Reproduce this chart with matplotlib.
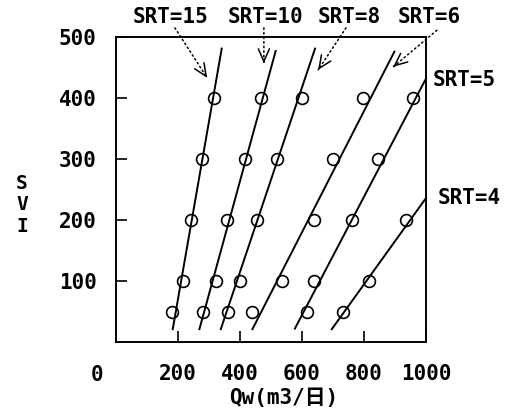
import matplotlib
matplotlib.use("Agg")
import matplotlib.pyplot as plt

# ---- data ----
svi_levels = [50, 100, 200, 300, 400]

qw_srt15 = [180, 217, 241, 276, 317]
qw_srt10 = [282, 322, 357, 416, 468]
qw_srt8 = [360, 400, 456, 518, 599]
qw_srt6 = [438, 537, 640, 700, 797]
qw_srt5 = [617, 638, 760, 846, 957]
qw_srt4 = [733, 817, 935]
svi_srt4 = [50, 100, 200]

# fitted lines: (Qw, SVI) at both ends
fit15_x, fit15_y = [183, 341], [21, 481]
fit10_x, fit10_y = [269, 515], [21, 477]
fit8_x, fit8_y = [338, 642], [21, 481]
fit6_x, fit6_y = [440, 898], [21, 476]
fit5_x, fit5_y = [577, 1000], [22, 432]
fit4_x, fit4_y = [696, 1000], [21, 236]

x_ticks = [200, 400, 600, 800, 1000]
y_ticks = [100, 200, 300, 400, 500]

FONT = ["DejaVu Sans Mono", "Noto Sans CJK JP"]
plt.rcParams["font.family"] = FONT

fig = plt.figure(figsize=(5.05, 4.13), dpi=100)
ax = fig.add_axes([0.2297, 0.1719, 0.6139, 0.7385])

mk = dict(marker="o", linestyle="none", markersize=8.5, markerfacecolor="none",
          markeredgecolor="black", markeredgewidth=1.2)
ln = dict(color="black", linewidth=1.4)

for fx, fy in [(fit15_x, fit15_y), (fit10_x, fit10_y), (fit8_x, fit8_y),
               (fit6_x, fit6_y), (fit5_x, fit5_y), (fit4_x, fit4_y)]:
    ax.plot(fx, fy, clip_on=False, **ln)

for qx in [qw_srt15, qw_srt10, qw_srt8, qw_srt6, qw_srt5]:
    ax.plot(qx, svi_levels, **mk)
ax.plot(qw_srt4, svi_srt4, **mk)

ax.set_xlim(0, 1000)
ax.set_ylim(0, 500)
ax.set_xticks(x_ticks)
ax.set_yticks(y_ticks)
ax.tick_params(direction="in", length=8, width=1.2, labelsize=15, colors="black")
ax.tick_params(axis="x", pad=16)
ax.tick_params(axis="y", pad=14)
for lab in ax.get_xticklabels() + ax.get_yticklabels():
    lab.set_fontweight("bold")
for s in ax.spines.values():
    s.set_linewidth(1.4)

ax.text(-61, -54, "0", fontsize=15, fontweight="bold", ha="center", va="center")
ax.text(540, -92, "Qw(m3/日)", fontsize=15, fontweight="bold", ha="center",
        va="center", family=FONT)
ax.text(-303, 225, "S\nV\nI", fontsize=14, fontweight="bold", ha="center",
        va="center", linespacing=1.15)

tkw = dict(fontsize=15, fontweight="bold", ha="center", va="center")
ax.text(177, 533, "SRT=15", **tkw)
ax.text(481, 533, "SRT=10", **tkw)
ax.text(752, 533, "SRT=8", **tkw)
ax.text(1010, 533, "SRT=6", **tkw)
ax.text(1022, 430, "SRT=5", fontsize=15, fontweight="bold", ha="left", va="center")
ax.text(1039, 236, "SRT=4", fontsize=15, fontweight="bold", ha="left", va="center")

dotted = dict(arrowstyle="-", linestyle=(0, (1, 2)), color="black",
              linewidth=1.1, shrinkA=0, shrinkB=0)
head = dict(arrowstyle="->,head_length=0.9,head_width=0.4", color="black",
            linewidth=1.1, shrinkA=0, shrinkB=0)
for start, end in [((190, 515), (294, 433)), ((477, 515), (477, 457)),
                   ((742, 515), (652, 446)), ((1035, 511), (894, 451))]:
    ax.annotate("", xy=end, xytext=start, arrowprops=dotted, annotation_clip=False)
    near = (end[0] + (start[0] - end[0]) * 0.04, end[1] + (start[1] - end[1]) * 0.04)
    ax.annotate("", xy=end, xytext=near, arrowprops=head, annotation_clip=False)

fig.savefig("out.png", dpi=100)
